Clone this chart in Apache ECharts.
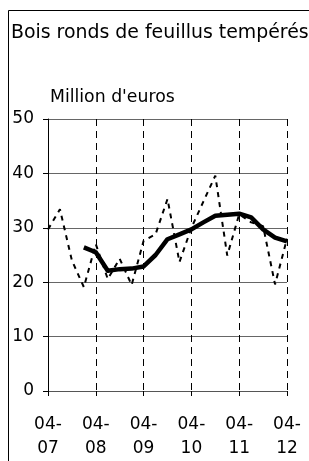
<!DOCTYPE html>
<html>
<head>
<meta charset="utf-8">
<script src="https://cdn.jsdelivr.net/npm/echarts@6/dist/echarts.min.js"></script>
<style>
html,body{margin:0;padding:0;background:#fff;}
#c{width:309px;height:461px;}
</style>
</head>
<body>
<div id="c"></div>
<script>
const titleText = "Bois ronds de feuillus tempérés";
const unitText = "Million d'euros";
const quarters = ['04-07','07-07','10-07','01-08','04-08','07-08','10-08','01-09','04-09','07-09','10-09','01-10','04-10','07-10','10-10','01-11','04-11','07-11','10-11','01-12','04-12'];
const quarterly = [29.7, 33.4, 24.0, 19.1, 27.0, 20.6, 24.3, 19.5, 27.6, 28.8, 35.3, 23.7, 30.0, 34.8, 39.6, 24.9, 32.5, 31.0, 30.3, 19.6, 28.0];
const movingAvg = [null, null, null, 26.4, 25.5, 22.1, 22.4, 22.5, 22.9, 25.0, 27.9, 28.8, 29.7, 31.0, 32.2, 32.4, 32.6, 31.9, 29.7, 28.2, 27.5];
const yTicks = {min: 0, max: 50, step: 10};

const FONT = 'DejaVu Sans';
const chart = echarts.init(document.getElementById('c'), null, {renderer: 'canvas'});
chart.setOption({
  animation: false,
  backgroundColor: '#ffffff',
  grid: {left: 48, right: 22, top: 119, bottom: 68, containLabel: false},
  graphic: [
    {type: 'rect', shape: {x: 8.5, y: 10.5, width: 400, height: 500}, style: {fill: 'none', stroke: '#000', lineWidth: 1}, silent: true},
    {type: 'text', left: 11, top: 23.5, style: {text: titleText, font: '18.9px "DejaVu Sans"', fill: '#000'}},
    {type: 'text', left: 50, top: 89, style: {text: unitText, font: '17.3px "DejaVu Sans"', fill: '#000'}}
  ],
  xAxis: {
    type: 'category',
    data: quarters,
    boundaryGap: false,
    axisLine: {show: true, lineStyle: {color: '#555', width: 1.2}},
    axisTick: {show: true, interval: 3, length: 5, lineStyle: {color: '#000', width: 1}},
    axisLabel: {
      interval: 3, margin: 22, color: '#000', fontFamily: FONT, fontSize: 17, lineHeight: 24,
      formatter: v => v.replace('-', '-\n')
    },
    splitLine: {show: true, interval: 3, lineStyle: {color: '#000', width: 1, type: [7, 5]}}
  },
  yAxis: {
    type: 'value',
    min: yTicks.min, max: yTicks.max, interval: yTicks.step,
    axisLine: {show: true, lineStyle: {color: '#000', width: 1}},
    axisTick: {show: true, length: 5, lineStyle: {color: '#000', width: 1}},
    axisLabel: {margin: 14, color: '#000', fontFamily: FONT, fontSize: 17},
    splitLine: {show: true, lineStyle: {color: '#666', width: 1}}
  },
  series: [
    {
      type: 'line', data: quarterly, symbol: 'none', z: 2,
      lineStyle: {color: '#000', width: 2, type: [5, 5]}
    },
    {
      type: 'line', data: movingAvg, symbol: 'none', z: 3, connectNulls: false,
      lineStyle: {color: '#000', width: 4.5, cap: 'butt', join: 'round'}
    }
  ]
});
</script>
</body>
</html>
